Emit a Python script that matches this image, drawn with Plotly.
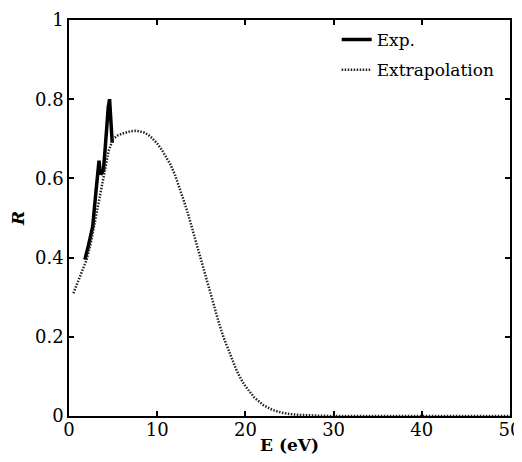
import plotly.graph_objects as go

# Extrapolation series
ext_E = [0.5, 1, 1.5, 2, 2.5, 3, 3.5, 4, 4.5, 5, 5.5, 6, 6.5, 7, 7.5, 8, 8.5, 9, 9.5, 10,
         10.5, 11, 11.5, 12, 12.5, 13, 13.5, 14, 14.5, 15, 15.5, 16, 16.5, 17, 17.5, 18,
         18.5, 19, 19.5, 20, 21, 22, 23, 24, 25, 26, 28, 30, 35, 40, 45, 50]
ext_R = [0.31, 0.34, 0.37, 0.395, 0.44, 0.50, 0.56, 0.62, 0.67, 0.70, 0.708, 0.713, 0.717,
         0.719, 0.72, 0.719, 0.716, 0.71, 0.70, 0.688, 0.673, 0.655, 0.635, 0.61, 0.58,
         0.545, 0.51, 0.47, 0.43, 0.39, 0.35, 0.31, 0.27, 0.235, 0.20, 0.17, 0.14, 0.115,
         0.093, 0.075, 0.047, 0.028, 0.016, 0.009, 0.005, 0.003, 0.001, 0.0, 0.0, 0.0, 0.0, 0.0]

# Experimental series
exp_E = [1.8, 2.0, 2.2, 2.4, 2.6, 2.7, 2.9, 3.1, 3.3, 3.4, 3.5, 3.6, 3.75, 3.9, 4.05,
         4.2, 4.3, 4.45, 4.6, 4.7, 4.8, 4.9]
exp_R = [0.395, 0.41, 0.43, 0.45, 0.47, 0.48, 0.53, 0.58, 0.62, 0.645, 0.625, 0.61,
         0.615, 0.62, 0.66, 0.71, 0.74, 0.78, 0.80, 0.77, 0.73, 0.69]

fig = go.Figure()
fig.add_trace(go.Scatter(x=exp_E, y=exp_R, mode="lines", name="Exp.", legendgroup="a",
                         line=dict(color="black", width=3.5)))
fig.add_trace(go.Scatter(x=ext_E, y=ext_R, mode="lines", name="Extrapolation", legendgroup="b",
                         line=dict(color="#222222", width=2.5, dash="1.5px,1.5px")))

font = "DejaVu Serif"
axis_common = dict(showline=True, linecolor="black", linewidth=1.5, mirror="ticks",
                   ticks="inside", ticklen=5, tickcolor="black", tickwidth=1.5,
                   showgrid=False, zeroline=False, automargin=False,
                   tickfont=dict(family=font, size=18, color="black"))

fig.update_layout(
    width=514, height=454,
    margin=dict(l=61, r=12, t=12, b=46),
    paper_bgcolor="white", plot_bgcolor="white",
    font=dict(family=font, color="black"),
    xaxis=dict(range=[0, 50], tickvals=[0, 10, 20, 30, 40, 50],
               title=dict(text="<b>E (eV)</b>", font=dict(family=font, size=17), standoff=0),
               ticklabelstandoff=-3,
               **axis_common),
    yaxis=dict(range=[0, 1], tickvals=[0, 0.2, 0.4, 0.6, 0.8, 1],
               ticktext=["0", "0.2", "0.4", "0.6", "0.8", "1"],
               title=dict(text="<b><i>R</i></b>", font=dict(family=font, size=17), standoff=10),
               **axis_common),
    legend=dict(x=0.607, y=0.995, xanchor="left", yanchor="top", bgcolor="rgba(0,0,0,0)",
                font=dict(family=font, size=17, color="black"), itemwidth=30,
                traceorder="grouped", tracegroupgap=5),
    showlegend=True,
)

fig.write_html("out.html")
